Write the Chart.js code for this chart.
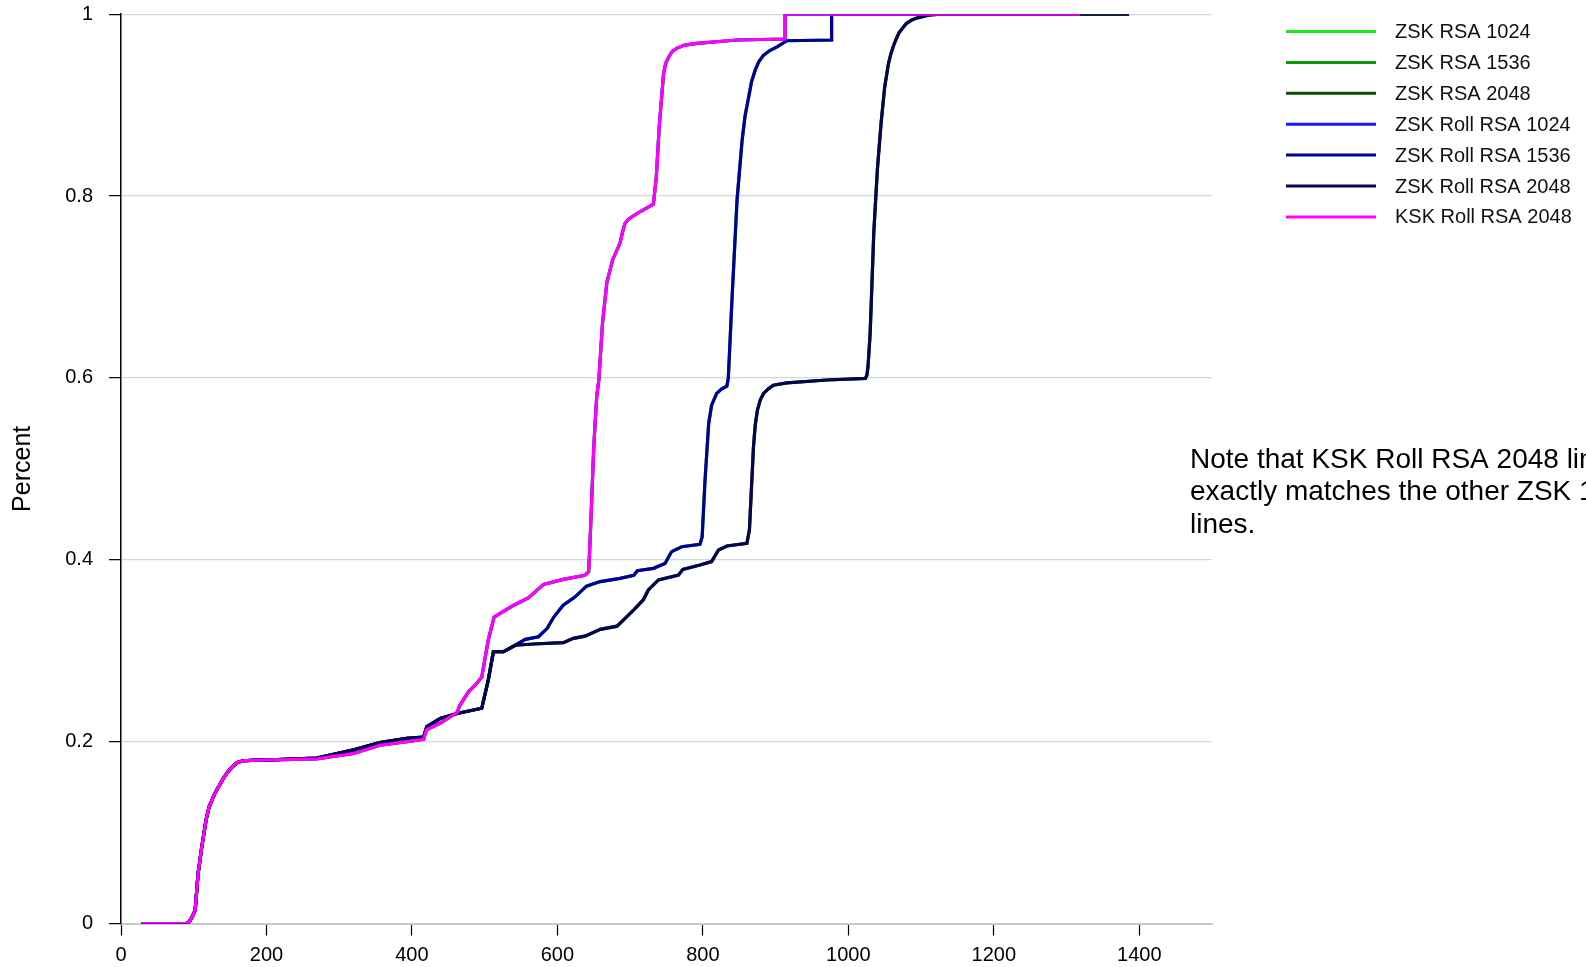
<!DOCTYPE html>
<html>
<head>
<meta charset="utf-8">
<title>Validation latency CDF</title>
<script src="https://cdn.jsdelivr.net/npm/chart.js@4.4.1/dist/chart.umd.min.js"></script>
<style>
  html, body { margin: 0; padding: 0; background: #ffffff; overflow: hidden; }
  #wrap { width: 1586px; height: 967px; position: relative; }
</style>
</head>
<body>
<div id="wrap"><canvas id="cdf" width="1586" height="967"></canvas></div>
<script>
// Cumulative curves: 1024-bit group (shared by the ZSK 1024 lines and the KSK roll)
const x1024 = [28, 90, 94, 97, 100, 102, 106, 111, 117, 121, 129, 141, 147, 154, 160, 168, 180, 205, 269, 320, 356, 393, 416, 420, 439, 462, 466, 478, 487, 496, 505, 513, 540, 560, 581, 608, 638, 643, 645, 650, 654, 657, 662, 668, 676, 686, 690, 693, 697, 702, 714, 732, 736, 740, 746, 749, 753, 758, 764, 775, 792, 847, 913, 913, 1319];
const y1024 = [0, 0, 0.002, 0.006, 0.011, 0.015, 0.055, 0.084, 0.114, 0.128, 0.143, 0.160, 0.167, 0.173, 0.177, 0.179, 0.1795, 0.180, 0.181, 0.187, 0.196, 0.200, 0.2025, 0.213, 0.2205, 0.232, 0.240, 0.255, 0.262, 0.271, 0.312, 0.337, 0.350, 0.358, 0.373, 0.3785, 0.383, 0.387, 0.422, 0.524, 0.579, 0.598, 0.66, 0.705, 0.73, 0.748, 0.762, 0.770, 0.774, 0.777, 0.783, 0.791, 0.821, 0.876, 0.935, 0.946, 0.953, 0.959, 0.9625, 0.966, 0.968, 0.9716, 0.9727, 1.0, 1.0];

// 1536-bit group
const x1536 = [28, 90, 94, 97, 100, 102, 106, 111, 117, 121, 129, 141, 147, 154, 160, 168, 180, 205, 269, 320, 356, 393, 416, 420.5, 439, 462, 496, 505, 512, 526, 542, 556, 574, 586, 595, 608, 624, 640, 659, 686, 705, 710, 732, 748, 757, 771, 796, 799, 803, 808, 812, 819, 826, 833, 835, 840, 847, 854, 858, 863, 867, 872, 877, 883.5, 892, 902, 915.5, 977, 977, 1300];
const y1536 = [0, 0, 0.002, 0.006, 0.011, 0.015, 0.055, 0.084, 0.114, 0.128, 0.143, 0.160, 0.167, 0.173, 0.177, 0.179, 0.1795, 0.180, 0.182, 0.191, 0.199, 0.2037, 0.205, 0.2165, 0.2256, 0.231, 0.2367, 0.268, 0.299, 0.299, 0.306, 0.3125, 0.3154, 0.3246, 0.337, 0.350, 0.359, 0.371, 0.376, 0.3796, 0.383, 0.388, 0.3906, 0.396, 0.409, 0.4144, 0.417, 0.425, 0.488, 0.550, 0.570, 0.583, 0.588, 0.591, 0.600, 0.686, 0.7957, 0.8617, 0.888, 0.909, 0.926, 0.9386, 0.948, 0.955, 0.960, 0.964, 0.9708, 0.9716, 1.0, 1.0];

// 2048-bit group
const x2048 = [28, 90, 94, 97, 100, 102, 106, 111, 117, 121, 129, 141, 147, 154, 160, 168, 180, 205, 269, 320, 356, 393, 416, 420.5, 439, 462, 496, 505, 512, 526, 542, 567, 608, 622, 638, 659, 682, 705, 718, 725, 739, 766.5, 772.5, 796, 812, 821.5, 833, 860.5, 864, 869.6, 872, 875, 879, 883.5, 890, 897, 915.5, 970.6, 1023.4, 1025.5, 1027, 1030, 1035, 1040, 1045, 1050, 1055, 1058, 1062, 1066, 1070, 1075, 1080, 1088, 1095, 1110, 1126, 1386];
const y2048 = [0, 0, 0.002, 0.006, 0.011, 0.015, 0.055, 0.084, 0.114, 0.128, 0.143, 0.160, 0.167, 0.173, 0.177, 0.179, 0.1795, 0.180, 0.182, 0.191, 0.199, 0.2037, 0.205, 0.2165, 0.2256, 0.231, 0.2367, 0.268, 0.299, 0.299, 0.306, 0.3074, 0.3088, 0.3136, 0.316, 0.3235, 0.327, 0.3448, 0.3558, 0.3668, 0.3778, 0.3833, 0.3895, 0.3943, 0.398, 0.4108, 0.4152, 0.4181, 0.4328, 0.5244, 0.548, 0.5647, 0.576, 0.583, 0.588, 0.592, 0.5945, 0.5977, 0.5995, 0.603, 0.612, 0.649, 0.76, 0.83, 0.88, 0.92, 0.945, 0.955, 0.965, 0.973, 0.98, 0.985, 0.99, 0.994, 0.996, 0.999, 1.0, 1.0];

const seriesNames = ['ZSK RSA 1024', 'ZSK RSA 1536', 'ZSK RSA 2048', 'ZSK Roll RSA 1024', 'ZSK Roll RSA 1536', 'ZSK Roll RSA 2048', 'KSK Roll RSA 2048'];
const seriesColors = ['#1ee61e', '#0a9a0a', '#064d06', '#1a1aff', '#00009a', '#06064f', '#ff00ff'];
const seriesX = [x1024, x1536, x2048, x1024, x1536, x2048, x1024];
const seriesY = [y1024, y1536, y2048, y1024, y1536, y2048, y1024];
// later legend entries are painted on top
const seriesLayer = [6, 5, 4, 3, 2, 1, 0];

const yTicks = [0, 0.2, 0.4, 0.6, 0.8, 1];
const noteLines = ['Note that KSK Roll RSA 2048 line', 'exactly matches the other ZSK 1024', 'lines.'];

const FONT = '"Liberation Sans", Arial, Helvetica, sans-serif';

const datasets = seriesNames.map((name, i) => ({
  label: name,
  data: seriesX[i].map((x, k) => ({ x: x, y: seriesY[i][k] })),
  borderColor: seriesColors[i],
  backgroundColor: seriesColors[i],
  borderWidth: 3.2,
  pointRadius: 0,
  tension: 0,
  fill: false,
  order: seriesLayer[i]
}));

// Legend and side note drawn beside the plot
const sidePanel = {
  id: 'sidePanel',
  afterDraw(chart) {
    const ctx = chart.ctx;
    ctx.save();
    ctx.textBaseline = 'middle';
    ctx.textAlign = 'left';
    chart.data.datasets.forEach((ds, i) => {
      const y = 31.5 + i * 30.9;
      ctx.strokeStyle = ds.borderColor;
      ctx.lineWidth = 3;
      ctx.beginPath();
      ctx.moveTo(1286, y);
      ctx.lineTo(1376, y);
      ctx.stroke();
      ctx.fillStyle = '#111111';
      ctx.font = '20px ' + FONT;
      ctx.fillText(ds.label, 1395, y + 1);
    });
    ctx.fillStyle = '#000000';
    ctx.font = '28px ' + FONT;
    noteLines.forEach((t, i) => {
      ctx.fillText(t, 1190, 460 + i * 32.4);
    });
    ctx.restore();
  }
};

new Chart(document.getElementById('cdf'), {
  type: 'line',
  data: { datasets: datasets },
  options: {
    responsive: false,
    animation: false,
    devicePixelRatio: 1,
    layout: { padding: { left: 0, right: 374, top: 14.2, bottom: 0 } },
    plugins: {
      legend: { display: false },
      tooltip: { enabled: false }
    },
    scales: {
      x: {
        type: 'linear',
        min: 0,
        max: 1500,
        border: { display: true, color: '#c8c8c8', width: 2 },
        grid: { drawOnChartArea: false, drawTicks: true, tickLength: 12, tickColor: '#000000', tickWidth: 1.2 },
        ticks: {
          stepSize: 200,
          includeBounds: false,
          padding: 8,
          color: '#000000',
          font: { family: FONT, size: 20 },
          maxRotation: 0,
          callback: (v) => String(v)
        },
        afterFit: (scale) => { scale.height = 43.5; }
      },
      y: {
        type: 'linear',
        min: 0,
        max: 1,
        afterBuildTicks: (scale) => { scale.ticks = yTicks.map(v => ({ value: v })); },
        border: { display: true, color: '#000000', width: 1.5 },
        grid: { drawOnChartArea: true, color: '#d6d6d6', lineWidth: 1.3, drawTicks: true, tickLength: 12, tickColor: '#000000', tickWidth: 1.2 },
        ticks: {
          padding: 16,
          color: '#000000',
          font: { family: FONT, size: 20 },
          callback: (v) => String(v)
        },
        title: {
          display: true,
          text: 'Percent',
          color: '#000000',
          font: { family: FONT, size: 25 },
          padding: { top: 8, bottom: 30 }
        },
        afterFit: (scale) => {
          scale.width = 121;
          scale.paddingTop = 0;
          scale.paddingBottom = 0;
        }
      }
    }
  },
  plugins: [sidePanel]
});
</script>
</body>
</html>
